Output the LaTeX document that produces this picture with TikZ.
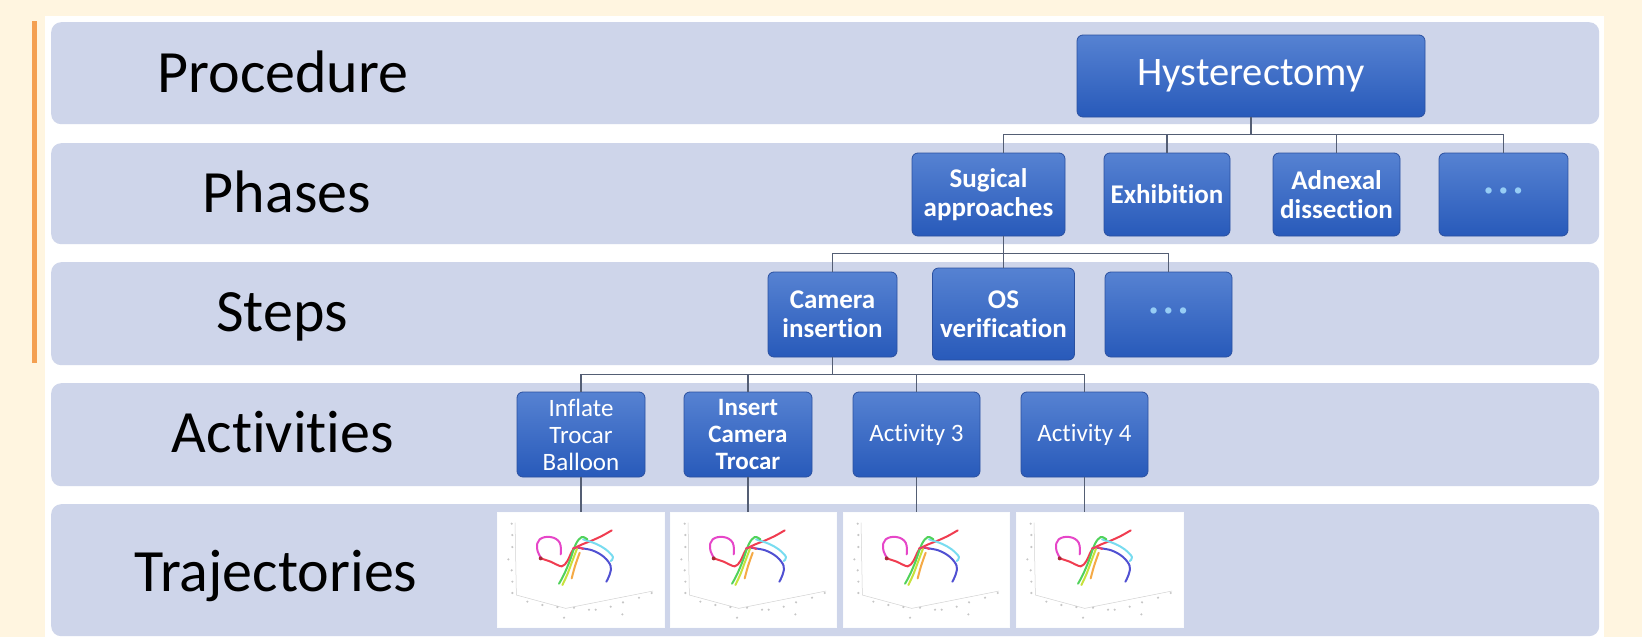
\documentclass[tikz,border=0pt]{standalone}
\usepackage{fontspec}
\setmainfont{Carlito}[RawFeature={-liga;-dlig;-clig}]
\definecolor{cream}{RGB}{255,245,224}
\definecolor{bandc}{RGB}{206,213,234}
\definecolor{orangeline}{RGB}{244,160,82}
\definecolor{boxtop}{RGB}{86,130,210}
\definecolor{boxbot}{RGB}{40,90,186}
\definecolor{boxborder}{RGB}{42,80,160}
\definecolor{connc}{RGB}{84,94,116}
\definecolor{dotc}{RGB}{150,205,245}
\definecolor{magc}{RGB}{230,70,200}
\definecolor{redc}{RGB}{240,60,80}
\definecolor{greenc}{RGB}{80,210,90}
\definecolor{limec}{RGB}{200,225,60}
\definecolor{orangec}{RGB}{245,170,70}
\definecolor{cyanc}{RGB}{120,220,240}
\definecolor{bluec}{RGB}{80,80,210}
\tikzset{
  band/.style={fill=bandc, rounded corners=10pt, draw=none, anchor=north west, inner sep=0pt},
  lvl/.style={font=\fontsize{60}{62}\selectfont, anchor=base, inner sep=0pt, text=black},
  hbox/.style={draw=boxborder, line width=0.8pt, rounded corners=6pt, top color=boxtop,
    bottom color=boxbot, text=white, align=center, inner sep=0pt, minimum height=85pt},
  boldtxt/.style={font=\bfseries\fontsize{27}{29}\selectfont},
  regtxt/.style={font=\fontsize{25}{27}\selectfont},
  dotstxt/.style={font=\bfseries\fontsize{34}{36}\selectfont, text=dotc},
  conn/.style={draw=connc, line width=1.6pt},
  trajbox/.style={fill=white, draw=white!92!bandc, line width=0.6pt, minimum width=166pt,
    minimum height=115pt, inner sep=0pt},
  curve/.style={line width=2pt, line cap=round, line join=round},
  trajplot/.pic={
    \begin{scope}[scale=1/3, shift={(-3,-12)}]
      \draw[gray!35, line width=0.5pt] (58,45) -- (62,262) -- (210,302) -- (472,250);
      \foreach \px/\py in {48/48,50/82,50/118,38/155,48/188,50/222,50/256,
          95/282,140/292,185/298,235/300,280/306,300/306,345/297,382/284,430/270,468/256,
          205/330,380/320}
        \fill[gray!45] (\px,\py) circle (3.5);
      \draw[curve, magc] plot[smooth, tension=0.7] coordinates
        {(195,140) (192,105) (165,88) (132,95) (124,122) (135,150)};
      \draw[curve, redc] plot[smooth, tension=0.5] coordinates
        {(135,152) (165,162) (198,176) (215,160) (232,126) (255,112) (290,98) (320,84) (348,68)};
      \fill[redc!70!black] (135,152) circle (6);
      \draw[curve, cyanc] plot[smooth, tension=0.6] coordinates
        {(262,95) (300,108) (330,125) (352,148) (345,160)};
      \draw[curve, bluec] plot[smooth, tension=0.6] coordinates
        {(245,120) (290,128) (325,148) (345,175) (342,200) (332,222)};
      \draw[curve, greenc] plot[smooth, tension=0.6] coordinates
        {(190,228) (205,200) (222,160) (240,110) (258,88) (275,95)};
      \draw[curve, limec] plot[smooth, tension=0.6] coordinates
        {(200,232) (215,200) (228,165) (245,120)};
      \draw[curve, orangec] plot[smooth, tension=0.6] coordinates
        {(228,212) (238,175) (252,135)};
      \draw[curve, redc!80!magc] plot[smooth, tension=0.6] coordinates
        {(232,122) (248,118) (262,124)};
    \end{scope}
  }
}
\begin{document}
\begin{tikzpicture}[x=1pt,y=-1pt]
\useasboundingbox (0,0) rectangle (1642,637);
\fill[cream] (0,0) rectangle (1642,637);
\fill[white] (45,16) rectangle (1604,637);
\fill[orangeline] (32,21) rectangle (37,363);

% bands
\node[band, minimum width=1548pt, minimum height=102pt] (b1) at (51,22) {};
\node[band, minimum width=1548pt, minimum height=101pt] (b2) at (51,143) {};
\node[band, minimum width=1548pt, minimum height=103pt] (b3) at (51,262) {};
\node[band, minimum width=1548pt, minimum height=103pt] (b4) at (51,383) {};
\node[band, minimum width=1548pt, minimum height=132pt] (b5) at (51,504) {};

% level labels
\node[lvl] (l1) at (283,92) {Procedure};
\node[lvl] (l2) at (287,212) {Phases};
\node[lvl] (l3) at (282,331.5) {Steps};
\node[lvl] (l4) at (283,452.5) {Activities};
\node[lvl] (l5) at (276,591.5) {Trajectories};

% procedure
\node[hbox, minimum width=348pt, minimum height=82pt, font=\fontsize{40.5}{42}\selectfont] (hyst) at (1251,76) {Hysterectomy};

% phases
\node[hbox, boldtxt, minimum width=153pt, minimum height=83pt] (ph1) at (988.5,194.5) {Sugical\\approaches};
\node[hbox, boldtxt, minimum width=126pt, minimum height=83pt] (ph2) at (1167,194.5) {Exhibition};
\node[hbox, boldtxt, minimum width=127pt, minimum height=83pt] (ph3) at (1336.5,194.5) {Adnexal\\dissection};
\node[hbox, dotstxt, minimum width=129pt, minimum height=83pt] (ph4) at (1503.5,194.5) {·\,·\,·};

% steps
\node[hbox, boldtxt, minimum width=129pt] (st1) at (832.5,314.5) {Camera\\insertion};
\node[hbox, boldtxt, minimum width=142pt, minimum height=92pt] (st2) at (1003.5,314) {OS\\verification};
\node[hbox, dotstxt, minimum width=127pt] (st3) at (1168.5,314.5) {·\,·\,·};

% activities
\node[hbox, regtxt, minimum width=128pt] (a1) at (581,434.5) {Inflate\\Trocar\\Balloon};
\node[hbox, regtxt, minimum width=128pt, font=\bfseries\fontsize{25}{27}\selectfont] (a2) at (748,434.5) {Insert\\Camera\\Trocar};
\node[hbox, regtxt, minimum width=127pt] (a3) at (916.5,434.5) {Activity 3};
\node[hbox, regtxt, minimum width=127pt] (a4) at (1084.5,434.5) {Activity 4};

% trajectory images
\node[trajbox, minimum width=167pt] (t1) at (580.5,569.5) {};
\node[trajbox] (t2) at (753,569.5) {};
\node[trajbox] (t3) at (926,569.5) {};
\node[trajbox, minimum width=167pt] (t4) at (1099.5,569.5) {};
\pic at (t1.north west) {trajplot};
\pic at (t2.north west) {trajplot};
\pic at (t3.north west) {trajplot};
\pic at (t4.north west) {trajplot};

% connectors: procedure -> phases
\draw[conn] (hyst.south) -- ++(0,17) -| ([xshift=15pt]ph1.north);
\draw[conn] (hyst.south) -- ++(0,17) -| (ph2.north);
\draw[conn] (hyst.south) -- ++(0,17) -| (ph3.north);
\draw[conn] (hyst.south) -- ++(0,17) -| (ph4.north);

% phases -> steps
\draw[conn] ([xshift=15pt]ph1.south) -- ++(0,17) -| (st1.north);
\draw[conn] ([xshift=15pt]ph1.south) -- ++(0,17) -| (st2.north);
\draw[conn] ([xshift=15pt]ph1.south) -- ++(0,17) -| (st3.north);

% steps -> activities
\draw[conn] (st1.south) -- ++(0,17) -| (a1.north);
\draw[conn] (st1.south) -- ++(0,17) -| (a2.north);
\draw[conn] (st1.south) -- ++(0,17) -| (a3.north);
\draw[conn] (st1.south) -- ++(0,17) -| (a4.north);

% activities -> trajectories
\draw[conn] (a1.south) -- (a1.south |- t1.north);
\draw[conn] (a2.south) -- (a2.south |- t2.north);
\draw[conn] (a3.south) -- (a3.south |- t3.north);
\draw[conn] (a4.south) -- (a4.south |- t4.north);
\end{tikzpicture}
\end{document}
